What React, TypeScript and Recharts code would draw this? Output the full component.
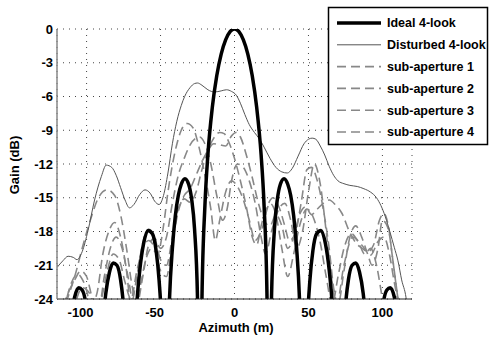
import { CartesianGrid, Line, LineChart, XAxis, YAxis } from "recharts";

// [azimuth (m), gain (dB)]; values below -24 fall outside the plot
const ideal: [number, number][] = [
  [-120, -32], [-117, -40], [-111, -26.3], [-108, -23.8], [-105.3, -23], [-103, -23.2], [-100, -24.9], [-97, -29.5],
  [-93.6, -40], [-89, -26.3], [-87, -23.5], [-84.5, -21.6], [-82, -20.8], [-79.5, -21], [-77, -22.3], [-75, -24.6], [-73, -28.5],
  [-70.2, -40], [-66, -24.4], [-64, -21.4], [-61.5, -19.1], [-58.5, -17.9], [-55.5, -18.2], [-53, -19.7], [-51, -22.3], [-49, -27.1],
  [-46.8, -40], [-44, -24.2], [-42, -19.5], [-40, -16.6], [-38, -14.8], [-36, -13.8], [-33.5, -13.3], [-31, -13.8], [-29, -15.1], [-27, -17.8], [-25, -24],
  [-23.4, -40], [-22, -24], [-20, -15.7], [-18, -11.2], [-15, -6.97], [-12, -4.15], [-9, -2.23], [-6, -0.97], [-3, -0.24],
  [0, 0], [3, -0.24], [6, -0.97], [9, -2.23], [12, -4.15], [15, -6.97], [18, -11.2], [20, -15.7], [22, -24],
  [23.4, -40], [25, -24], [27, -17.8], [29, -15.1], [31, -13.8], [33.5, -13.3], [36, -13.8], [38, -14.8], [40, -16.6], [42, -19.5], [44, -24.2],
  [46.8, -40], [49, -27.1], [51, -22.3], [53, -19.7], [55.5, -18.2], [58.5, -17.9], [61.5, -19.1], [64, -21.4], [66, -24.4],
  [70.2, -40], [73, -28.5], [75, -24.6], [77, -22.3], [79.5, -21], [82, -20.8], [84.5, -21.6], [87, -23.5], [89, -26.3],
  [93.6, -40], [97, -29.5], [100, -24.9], [103, -23.2], [105.3, -23], [108, -23.8], [111, -26.3], [117, -40], [120, -32],
];

const disturbed: [number, number][] = [
  [-120, -21.2], [-116, -20.6], [-112.5, -20.2], [-109, -20.3], [-106.5, -20.5], [-103, -19.8], [-99, -17.9], [-94.6, -15.2],
  [-90, -13.1], [-86.7, -12.1], [-83, -12.3], [-80, -13], [-77, -14.1], [-74, -15.2], [-71, -15.9], [-68, -15.6], [-64, -14.7],
  [-60.5, -14.3], [-57, -14.6], [-54, -15.3], [-51, -15.6], [-48, -14.8], [-45, -12.8], [-42, -10.2], [-39, -8.2], [-36, -6.8],
  [-33.7, -6], [-30, -5.2], [-27, -4.85], [-25, -4.8], [-22, -5], [-18, -5.4], [-13.5, -5.6], [-9, -5.5], [-5.4, -5.4],
  [-2, -5.55], [1.3, -5.9], [4, -6.6], [7, -7.6], [10, -8.5], [13.5, -9.2], [17, -9.8], [20, -10.5], [24, -11.5], [28, -12.3],
  [32, -12.7], [35.7, -12.8], [39, -12.4], [43, -11.3], [47, -10.2], [50, -9.8], [52.5, -9.7], [55, -9.8], [58, -10.4],
  [61, -11.2], [64, -12.2], [67, -13], [70, -13.5], [74, -13.75], [78, -13.9], [83, -14], [87.5, -14.2], [92, -14.5],
  [96, -15], [99, -15.7], [102, -16.7], [105, -18], [108, -19.4], [110.5, -20.6], [113, -22.3], [116, -23.9], [117.5, -25.5],
];

const sub1: [number, number][] = [
  [-120, -27], [-114, -24], [-108, -22.3], [-104, -21.5], [-100, -22], [-96, -24], [-92, -25], [-88, -22], [-84, -19.5],
  [-80, -18.5], [-76, -19.5], [-72, -22], [-68, -24.5], [-64, -23], [-60, -20.5], [-56, -19.5], [-52, -20], [-48, -17.5],
  [-45, -14.5], [-40, -10.8], [-36, -9], [-32, -8.4], [-28, -8.8], [-24, -10.5], [-20, -13], [-16, -16], [-13, -18.8],
  [-10, -17], [-6, -14.5], [-2, -13.5], [2, -14], [6, -15.2], [10, -17], [14, -18.8], [18, -18], [24, -15.5], [28, -16.5],
  [32, -19.5], [36, -22], [40, -20], [44, -17.5], [49, -16], [54, -17], [58, -19], [62, -22], [66, -24.5], [70, -22],
  [74, -19.5], [79, -18.2], [84, -19], [88, -20], [92, -19.5], [96, -21], [100, -24], [104, -27],
];

const sub2: [number, number][] = [
  [-120, -28], [-114, -24.5], [-108, -22], [-103, -19.5], [-97, -16.8], [-92, -15], [-86, -14.3], [-81, -14.8], [-77, -16.5],
  [-73, -19.5], [-69, -23], [-66, -24.5], [-62, -22], [-58, -19.2], [-54, -18.6], [-50, -19.5], [-46, -18.5], [-42, -15.5],
  [-38, -13], [-34, -11.5], [-30, -10.3], [-26, -9.7], [-23.6, -9.6], [-20, -10.2], [-16, -12], [-12, -14.8], [-8, -17],
  [-5, -16], [-2, -13.5], [2, -12], [6, -12.3], [10, -13.5], [14, -15.5], [18, -18.5], [21, -20], [25, -18], [30, -16],
  [34, -15.5], [38, -17], [42, -19.5], [46, -18], [50, -14.5], [54, -12], [58, -13.8], [62, -18], [66, -22.5], [69, -24.5],
  [74, -21], [80, -18.5], [86, -19.2], [92, -20.1], [97, -18.9], [101, -18.5], [105, -20.2], [108, -22.5], [111, -24.5], [116, -28],
];

const sub3: [number, number][] = [
  [-120, -30], [-115, -25], [-110, -22.5], [-106, -21.8], [-101, -22.8], [-97, -24.5], [-93, -23.5], [-89, -20], [-85, -18],
  [-81, -17.2], [-77, -18.5], [-73, -21.5], [-70, -24.5], [-66, -22], [-62, -19], [-58, -17.8], [-54, -18.5], [-50, -20.5],
  [-46, -21], [-42, -18.5], [-38, -16], [-34, -15.1], [-30, -15.4], [-26, -14.5], [-22, -12.5], [-18, -10.8], [-14, -9.7],
  [-10, -9.2], [-7, -9.3], [-4, -10], [0, -11.5], [4, -13.5], [8, -15.8], [12, -18.5], [15, -19.2], [18, -17.5], [22, -15.8],
  [26, -15], [30, -15.8], [34, -17.5], [37, -18.8], [41, -18.2], [45, -15.5], [49, -12.5], [52, -12.3], [56, -13.5], [60, -16],
  [64, -19.5], [67, -23], [70, -24.5], [74, -21.5], [78, -18.5], [82, -17.5], [86, -18.5], [90, -20], [93, -21], [97, -19.5],
  [100, -17], [104, -17.8], [107, -20.5], [110, -23.5], [113, -26],
];

const sub4: [number, number][] = [
  [-120, -30], [-114, -27], [-108, -24.5], [-103, -23], [-98, -23.5], [-94, -25], [-90, -24], [-86, -21.5], [-82, -20],
  [-78, -20.5], [-74, -22.5], [-70, -24], [-66, -21.5], [-62, -19.5], [-58, -18.8], [-54, -19.5], [-50, -21.5], [-46, -22],
  [-42, -19], [-38, -16.2], [-34, -14.8], [-30, -14.2], [-26, -13], [-22, -11.8], [-18, -10.8], [-14, -10.2], [-10, -10.3],
  [-6, -10.4], [-2, -9.5], [1, -9.2], [4, -9.6], [8, -11.2], [12, -13.2], [16, -15.4], [20, -17], [24, -17.5], [28, -16.5],
  [32, -17.5], [36, -19.5], [40, -18.5], [44, -16.5], [48, -15.8], [52, -16.5], [56, -16], [60, -15.5], [64, -15.2],
  [68.7, -15.7], [72.7, -16.4], [77, -17.8], [82, -19], [86.5, -19.5], [90, -19.8], [94, -19.2], [98, -17], [101, -16.4],
  [104, -17.5], [107, -20.5], [110, -23.5], [113, -27],
];

const xTicks = [-100, -50, 0, 50, 100];
const yTicks = [0, -3, -6, -9, -12, -15, -18, -21, -24];

const series = [
  { name: "Ideal 4-look", points: ideal, color: "#000", width: 3.5, dash: undefined },
  { name: "Disturbed 4-look", points: disturbed, color: "#555", width: 1, dash: undefined },
  { name: "sub-aperture 1", points: sub1, color: "#888", width: 1.6, dash: "9 5" },
  { name: "sub-aperture 2", points: sub2, color: "#888", width: 1.6, dash: "9 5" },
  { name: "sub-aperture 3", points: sub3, color: "#888", width: 1.6, dash: "9 5" },
  { name: "sub-aperture 4", points: sub4, color: "#888", width: 1.6, dash: "9 5" },
];

const font = "'Liberation Sans', Arial, sans-serif";

const XTick = (props: any) => {
  const { x, y, payload } = props;
  const shift = payload.value < 0 ? -6 : 0;
  return (
    <text x={x + shift} y={y} dy="0.71em" textAnchor="middle" fontFamily={font} fontWeight="bold" fontSize={13} fill="#000">
      {payload.value}
    </text>
  );
};

export default function App() {
  return (
    <div style={{ position: "absolute", left: 0, top: 0, width: 489, height: 341, background: "#fff" }}>
      <LineChart width={489} height={341} margin={{ top: 29, right: 77, bottom: 0, left: 0 }}>
        <CartesianGrid stroke="#444" strokeDasharray="1 5" />
        <XAxis
          type="number"
          dataKey="x"
          domain={[-120, 120]}
          ticks={xTicks}
          allowDataOverflow
          height={42}
          tickSize={0}
          tickMargin={9}
          tick={<XTick />}
          axisLine={{ stroke: "#222", strokeWidth: 1 }}
        />
        <YAxis
          type="number"
          dataKey="y"
          domain={[-24, 0]}
          ticks={yTicks}
          allowDataOverflow
          width={57}
          tickSize={0}
          tickMargin={4}
          tick={{ fontFamily: font, fontWeight: "bold", fontSize: 13, fill: "#000" }}
          axisLine={{ stroke: "#888", strokeWidth: 1.5 }}
        />
        {[...series].reverse().map((s) => (
          <Line
            key={s.name}
            data={s.points.map(([x, y]) => ({ x, y }))}
            dataKey="y"
            type="monotone"
            stroke={s.color}
            strokeWidth={s.width}
            strokeDasharray={s.dash}
            dot={false}
            activeDot={false}
            isAnimationActive={false}
          />
        ))}
      </LineChart>
      <svg width={489} height={341} style={{ position: "absolute", left: 0, top: 0, pointerEvents: "none" }}>
        <text x={236} y={332} textAnchor="middle" fontFamily={font} fontWeight="bold" fontSize={13}>
          Azimuth (m)
        </text>
        <text x={19} y={165} textAnchor="middle" fontFamily={font} fontWeight="bold" fontSize={13} transform="rotate(-90 19 165)">
          Gain (dB)
        </text>
        <rect x={328.5} y={7.5} width={159} height={137} fill="#fff" stroke="#000" strokeWidth={1.5} />
        {series.map((s, i) => {
          const cy = 23 + i * 21.8;
          return (
            <g key={s.name}>
              <line x1={337} x2={381} y1={cy} y2={cy} stroke={s.color} strokeWidth={s.width} strokeDasharray={s.dash} />
              <text x={387} y={cy} dy="0.35em" fontFamily={font} fontWeight="bold" fontSize={12.5}>
                {s.name}
              </text>
            </g>
          );
        })}
      </svg>
    </div>
  );
}
